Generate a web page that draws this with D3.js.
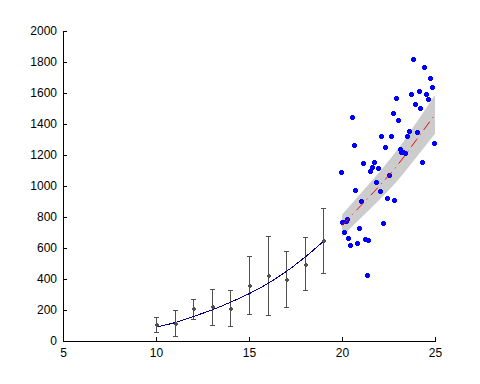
<!DOCTYPE html>
<html>
<head>
<meta charset="utf-8">
<title>Fit and prediction</title>
<script src="https://d3js.org/d3.v7.min.js"></script>
<style>
	html, body { margin: 0; background: #fff; }
	svg { display: block; font-family: "Liberation Sans", Arial, sans-serif; }
	.axis text { font-size: 12px; fill: #000; }
	.axis path, .axis line { stroke: #000; shape-rendering: crispEdges; }
</style>
</head>
<body>
<svg id="chart" width="480" height="384"></svg>
<script>
// measured groups (mean with error bars)
const barX     = [10, 11, 12, 13, 14, 15, 16, 17, 18, 19];
const barMean  = [108, 116, 211, 224, 211, 359, 424, 398, 497, 650];
const barUpper = [152, 198, 273, 337, 331, 546, 677, 579, 669, 858];
const barLower = [60, 30, 142, 101, 95, 172, 166, 217, 327, 439];

// fitted curve over the measured range
const fitX = [10, 11, 12, 13, 14, 15, 16, 17, 18, 19];
const fitY = [90, 118, 158, 200, 250, 305, 370, 448, 540, 642];

// prediction with confidence band
const predX     = [20, 21, 22, 23, 24, 25];
const predY     = [745, 872, 999, 1137, 1298, 1462];
const predLower = [675, 792, 909, 1037, 1186, 1337];
const predUpper = [815, 952, 1089, 1237, 1410, 1587];

// new observations
const obsX = [23.83, 24.42, 24.75, 24.85, 22.92, 23.73, 24.16, 24.53, 24.64, 23.94,
	24.21, 22.76, 20.55, 23.03, 22.11, 22.65, 23.62, 23.51, 24.05, 24.96,
	20.66, 22.33, 23.13, 23.30, 23.40, 23.17, 21.15, 21.74, 24.32, 19.96,
	21.63, 21.52, 21.95, 22.54, 21.84, 20.72, 22.06, 22.44, 22.81, 21.04,
	20.29, 20.02, 20.23, 22.22, 20.12, 20.93, 20.34, 20.45, 20.82, 21.25,
	21.41, 21.36];
const obsY = [1817, 1766, 1695, 1637, 1566, 1592, 1611, 1592, 1559, 1529,
	1501, 1469, 1443, 1424, 1321, 1321, 1355, 1325, 1346, 1275,
	1263, 1250, 1237, 1221, 1215, 1219, 1148, 1153, 1153, 1088,
	1121, 1095, 1114, 1069, 1024, 972, 966, 921, 908, 901,
	785, 768, 772, 759, 701, 727, 663, 617, 630, 656,
	650, 424];

const xTicks = [5, 10, 15, 20, 25];
const yTicks = [0, 200, 400, 600, 800, 1000, 1200, 1400, 1600, 1800, 2000];

const svg = d3.select("#chart");

const x = d3.scaleLinear().domain([5, 25]).range([63, 435]);
const y = d3.scaleLinear().domain([0, 2000]).range([341, 31]);

// markers: small filled cross like the pixel plus markers
const crossPath = r => `M${-r},${-r + 1}h${2 * r}v${2 * r - 2}h${-2 * r}z M${-r + 1},${-r}h${2 * r - 2}v${2 * r}h${-2 * r + 2}z`;

// confidence band
svg.append("path")
	.datum(predX.map((d, i) => ({ x: d, lo: predLower[i], hi: predUpper[i] })))
	.attr("fill", "#cccccc")
	.attr("d", d3.area()
		.x(d => x(d.x))
		.y0(d => y(d.lo))
		.y1(d => y(d.hi))
		.curve(d3.curveMonotoneX));

// error bars
const bars = barX.map((d, i) => ({ x: d, m: barMean[i], lo: barLower[i], hi: barUpper[i] }));
const eb = svg.append("g").attr("stroke", "#505050").attr("stroke-width", 1).style("shape-rendering", "crispEdges");

eb.selectAll(".stem").data(bars).join("line")
	.attr("x1", d => Math.round(x(d.x)) + 0.5).attr("x2", d => Math.round(x(d.x)) + 0.5)
	.attr("y1", d => y(d.lo)).attr("y2", d => y(d.hi));

eb.selectAll(".capTop").data(bars).join("line")
	.attr("x1", d => Math.round(x(d.x)) - 2).attr("x2", d => Math.round(x(d.x)) + 3)
	.attr("y1", d => Math.round(y(d.hi)) + 0.5).attr("y2", d => Math.round(y(d.hi)) + 0.5);

eb.selectAll(".capBot").data(bars).join("line")
	.attr("x1", d => Math.round(x(d.x)) - 2).attr("x2", d => Math.round(x(d.x)) + 3)
	.attr("y1", d => Math.round(y(d.lo)) + 0.5).attr("y2", d => Math.round(y(d.lo)) + 0.5);

// fitted line
svg.append("path")
	.datum(fitX.map((d, i) => [d, fitY[i]]))
	.attr("fill", "none")
	.attr("stroke", "#000080")
	.attr("stroke-width", 1)
	.style("shape-rendering", "crispEdges")
	.attr("d", d3.line().x(d => x(d[0])).y(d => y(d[1])).curve(d3.curveMonotoneX));

svg.append("g").selectAll("path").data(bars).join("path")
	.attr("fill", "#505050")
	.style("shape-rendering", "crispEdges")
	.attr("transform", d => `translate(${Math.round(x(d.x)) + 0.5},${Math.round(y(d.m)) + 0.5})`)
	.attr("d", crossPath(2));

// observations
svg.append("g").selectAll("path").data(obsX.map((d, i) => [d, obsY[i]])).join("path")
	.attr("fill", "#0000ff")
	.style("shape-rendering", "crispEdges")
	.attr("transform", d => `translate(${Math.round(x(d[0])) + 0.5},${Math.round(y(d[1])) + 0.5})`)
	.attr("d", crossPath(2.5));

// prediction line (dash-dot)
svg.append("path")
	.datum(predX.map((d, i) => [d, predY[i]]))
	.attr("fill", "none")
	.attr("stroke", "#ff0000")
	.attr("stroke-width", 1)
	.attr("stroke-dasharray", "10,5,1,5")
	.attr("d", d3.line().x(d => x(d[0])).y(d => y(d[1])).curve(d3.curveMonotoneX));

// axes, ticks pointing inward
svg.append("g")
	.attr("class", "axis")
	.attr("transform", "translate(0,341)")
	.call(d3.axisBottom(x).tickValues(xTicks).tickFormat(d3.format("d")).tickSizeInner(-4).tickSizeOuter(0).tickPadding(7));

svg.append("g")
	.attr("class", "axis")
	.attr("transform", "translate(63,0)")
	.call(d3.axisLeft(y).tickValues(yTicks).tickFormat(d3.format("d")).tickSizeInner(-4).tickSizeOuter(0).tickPadding(6));
</script>
</body>
</html>
